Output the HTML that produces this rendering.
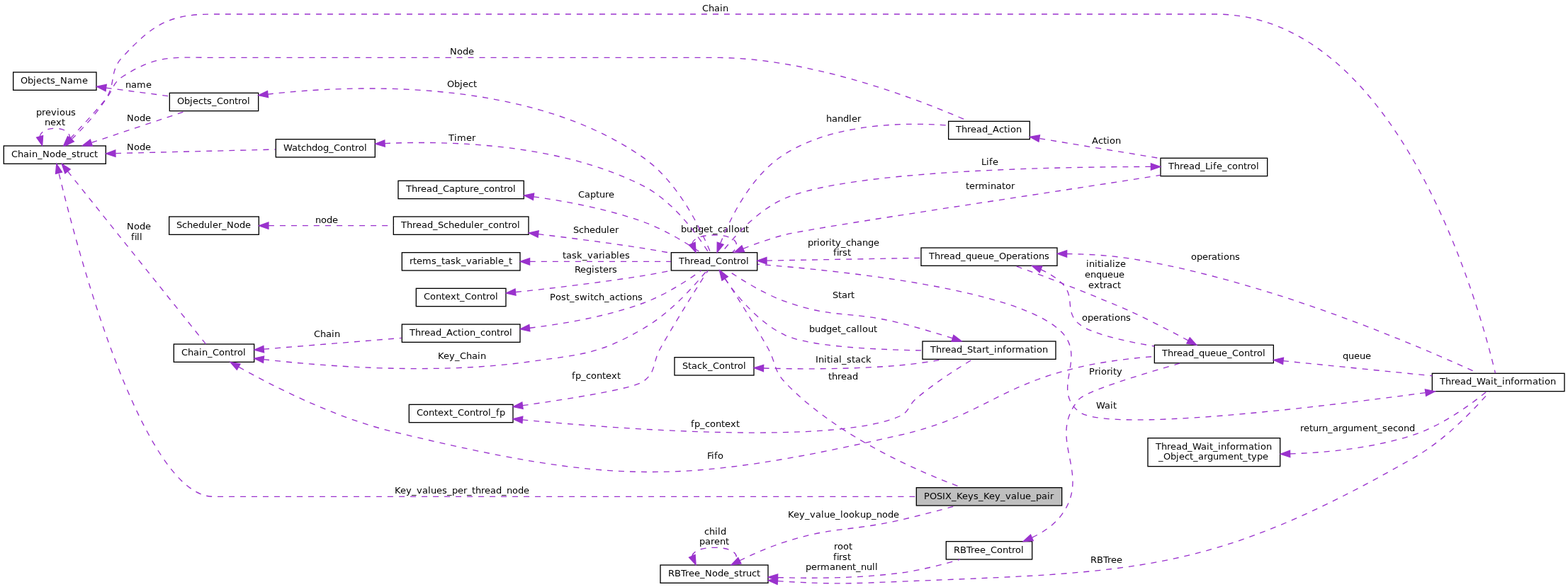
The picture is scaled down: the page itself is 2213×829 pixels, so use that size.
<!DOCTYPE html>
<html lang="en">
<head>
<meta charset="utf-8">
<title>POSIX_Keys_Key_value_pair collaboration diagram</title>
<style>
html,body{margin:0;padding:0;background:#fff;}
body{width:2213px;height:829px;overflow:hidden;position:relative;}
svg{display:block;position:absolute;left:0;top:0;will-change:transform;}
text{font-family:"DejaVu Sans","Liberation Sans",sans-serif;font-size:13px;text-anchor:start;fill:#000;}
.edge path{fill:none;stroke:#9a32cd;stroke-width:1.3333px;stroke-dasharray:8,8;}
.edge polygon{fill:#9a32cd;stroke:#9a32cd;stroke-width:1.3333px;}
.n{fill:#fff;stroke:#000;stroke-width:1.3333px;}
.g{fill:#bfbfbf;}
</style>
</head>
<body>
<svg width="2213" height="829" viewBox="0 0 2213 829">
<g class="node">
<rect class="n g" x="1293.33" y="688.67" width="205.33" height="25.33"/>
<text x="1304 1312 1322 1330 1334 1343 1350 1358 1366 1374 1381 1388 1396 1404 1412 1419 1427 1435 1439 1447 1455 1462 1470 1478 1482" y="705">POSIX_Keys_Key_value_pair</text>
</g>
<g class="node">
<rect class="n" x="947.33" y="356.67" width="121.33" height="25.33"/>
<text x="958 966 974 979 987 995 1003 1010 1019 1027 1035 1040 1045 1053" y="373">Thread_Control</text>
</g>
<g class="edge">
<path d="M1023.39,393.37C1039.34,417.85 1064.26,457.07 1084,492 1095.55,512.87 1091.55,522.73 1108,540 1180.85,616.51 1298.12,666.69 1357.56,688.64"/>
<polygon points="1019.37,395.77 1016.13,382.01 1027.24,390.75 1019.37,395.77"/>
<text x="1169 1174 1182 1187 1195 1203" y="536">thread</text>
</g>
<g class="edge">
<path d="M976.75,343.96C978.45,337.16 988.87,332 1008,332 1037.85,332 1046.49,344.57 1033.89,356.32"/>
<polygon points="981.09,342.24 982.11,356.32 972.52,345.95 981.09,342.24"/>
<text x="961 969 977 985 993 1001 1006 1013 1020 1028 1032 1036 1044 1052" y="328">budget_callout</text>
</g>
<g class="node">
<rect class="n" x="1300" y="350" width="192" height="25.33"/>
<text x="1311 1319 1327 1332 1340 1348 1356 1363 1371 1379 1387 1395 1403 1410 1420 1428 1436 1441 1449 1454 1458 1466 1474" y="366">Thread_queue_Operations</text>
</g>
<g class="edge">
<path d="M1082.21,368.07C1143.91,367 1232.77,365.47 1299.97,364.31"/>
<polygon points="1082.11,372.75 1068.69,368.31 1081.95,363.41 1082.11,372.75"/>
<text x="1140 1148 1153 1157 1165 1170 1174 1179 1187 1194 1201 1209 1217 1225 1233" y="347">priority_change</text>
<text x="1176 1181 1184 1189 1196" y="361">first</text>
</g>
<g class="node">
<rect class="n" x="1638" y="223.33" width="150.67" height="25.33"/>
<text x="1649 1657 1665 1670 1678 1686 1694 1701 1708 1712 1717 1725 1732 1739 1747 1755 1760 1765 1773" y="239">Thread_Life_control</text>
</g>
<g class="edge">
<path d="M1049.16,351.11C1066.96,344.04 1088.23,336.56 1108,331.47 1158.33,319.64 1487.25,271.36 1637.44,247.46"/>
<polygon points="1050.57,355.57 1036.48,356.49 1046.92,346.99 1050.57,355.57"/>
<text x="1363 1368 1376 1381 1394 1398 1406 1414 1419 1427" y="267">terminator</text>
</g>
<g class="node">
<rect class="n" x="1338.67" y="171.33" width="114.67" height="25.33"/>
<text x="1349 1357 1365 1370 1378 1386 1394 1401 1410 1417 1422 1426 1434" y="187">Thread_Action</text>
</g>
<g class="edge">
<path d="M1016.78,343.55C1030.54,308.49 1060.14,246.79 1108,217.33 1178.24,173.75 1277.03,172.49 1338.37,177.12"/>
<polygon points="1021.07,345.43 1012.14,356.37 1012.29,342.24 1021.07,345.43"/>
<text x="1166 1174 1182 1190 1198 1202 1210" y="172">handler</text>
</g>
<g class="node">
<rect class="n" x="1302" y="482" width="188" height="25.33"/>
<text x="1313 1321 1329 1334 1342 1350 1358 1365 1373 1378 1386 1391 1396 1403 1407 1415 1420 1428 1433 1446 1454 1459 1463 1471" y="498">Thread_Start_information</text>
</g>
<g class="edge">
<path d="M1022.91,393.47C1040.25,418.36 1070.83,455.91 1108,473.33 1141.25,489.11 1231.35,493.79 1301.76,494.92"/>
<polygon points="1018.87,395.81 1015.48,382.11 1026.68,390.72 1018.87,395.81"/>
<text x="1142 1150 1158 1166 1174 1182 1187 1194 1201 1209 1213 1217 1225 1233" y="469">budget_callout</text>
</g>
<g class="node">
<rect class="n" x="555.33" y="306" width="190.67" height="25.33"/>
<text x="566 574 582 587 595 603 611 618 626 633 641 649 657 665 669 677 682 689 696 704 712 717 722 730" y="322">Thread_Scheduler_control</text>
</g>
<g class="edge">
<path d="M759.73,330.61C805.53,336.09 859.47,343.05 908,350.67 920.75,352.67 934.36,355.07 947.29,357.48"/>
<polygon points="759.12,335.24 746.43,329.04 760.21,325.97 759.12,335.24"/>
<text x="809 817 824 832 840 848 856 860 868" y="329">Scheduler</text>
</g>
<g class="node">
<rect class="n" x="238.67" y="306" width="126.67" height="25.33"/>
<text x="249 257 264 272 280 288 296 300 308 313 320 330 338 346" y="322">Scheduler_Node</text>
</g>
<g class="edge">
<path d="M379.05,318.67C430.87,318.67 499.95,318.67 555.29,318.67"/>
<polygon points="378.92,323.33 365.59,318.67 378.92,314 378.92,323.33"/>
<text x="445 453 461 469" y="315">node</text>
</g>
<g class="node">
<rect class="n" x="2021.33" y="527.33" width="186.67" height="25.33"/>
<text x="2032 2040 2048 2053 2061 2069 2077 2084 2096 2104 2108 2113 2120 2124 2132 2137 2145 2150 2163 2171 2176 2180 2188" y="543">Thread_Wait_information</text>
</g>
<g class="edge">
<path d="M2011.67,554.55C1852.73,576.2 1559.71,611.28 1522.67,581.33 1483.08,549.33 1533.95,506.03 1498.67,469.33 1440,408.31 1186.17,382.2 1069.01,373.24"/>
<polygon points="2011.36,549.88 2025.2,552.69 2012.63,559.13 2011.36,549.88"/>
<text x="1547 1559 1567 1571" y="577">Wait</text>
</g>
<g class="node">
<rect class="n" x="932" y="798" width="152" height="25.33"/>
<text x="943 952 961 967 972 980 988 995 1005 1013 1021 1029 1036 1043 1048 1053 1061 1068" y="814">RBTree_Node_struct</text>
</g>
<g class="edge">
<path d="M1043.92,791.76C1062.63,782.65 1086.11,772.23 1108,765.33 1177.52,743.12 1198.17,750.87 1269.33,734.67 1296.12,728.57 1325.84,720.71 1349.61,714.16"/>
<polygon points="1046.01,795.93 1032.01,797.8 1041.79,787.61 1046.01,795.93"/>
<text x="1112 1120 1128 1136 1143 1151 1159 1163 1171 1179 1186 1190 1198 1206 1214 1222 1230 1237 1245 1253 1261" y="731">Key_value_lookup_node</text>
</g>
<g class="edge">
<path d="M1097.68,820.69C1101.16,820.93 1104.61,821.15 1108,821.33 1179.6,825.19 1197.69,824.24 1269.33,821.33 1601.93,807.81 1708.69,811.15 1997.33,645.33 2041.68,619.85 2083.45,574.99 2102.52,552.96"/>
<polygon points="1097.07,825.32 1084.15,819.61 1097.81,816.01 1097.07,825.32"/>
<text x="1539 1548 1557 1563 1568 1576" y="795">RBTree</text>
</g>
<g class="edge">
<path d="M976.75,785.29C978.45,778.49 988.87,773.33 1008,773.33 1037.85,773.33 1046.49,785.91 1033.89,797.65"/>
<polygon points="981.09,783.57 982.11,797.65 972.52,787.28 981.09,783.57"/>
<text x="994 1001 1009 1013 1017" y="755">child</text>
<text x="987 995 1003 1008 1016 1024" y="769">parent</text>
</g>
<g class="node">
<rect class="n" x="1335.33" y="764.67" width="121.33" height="25.33"/>
<text x="1346 1355 1364 1370 1375 1383 1391 1398 1407 1415 1423 1428 1433 1441" y="781">RBTree_Control</text>
</g>
<g class="edge">
<path d="M1098.03,815.56C1148.45,817.01 1212.65,816.6 1269.33,809.33 1298.52,805.59 1330.65,797.29 1355.08,790.09"/>
<polygon points="1097.36,820.21 1084.19,815.11 1097.67,810.88 1097.36,820.21"/>
<text x="1177 1182 1190 1198" y="776">root</text>
<text x="1176 1181 1184 1189 1196" y="791">first</text>
<text x="1137 1145 1153 1158 1171 1179 1187 1195 1203 1208 1215 1223 1231 1235" y="805">permanent_null</text>
</g>
<g class="edge">
<path d="M1505.65,358.47C1535.11,358.85 1566.91,360.69 1596,365.33 1790.72,396.37 2010.53,492.28 2086.13,527.16"/>
<polygon points="1505.6,363.13 1492.29,358.37 1505.67,353.8 1505.6,363.13"/>
<text x="1681 1689 1697 1705 1710 1718 1723 1727 1735 1743" y="367">operations</text>
</g>
<g class="node">
<rect class="n" x="1629.33" y="487.33" width="168" height="25.33"/>
<text x="1640 1648 1656 1661 1669 1677 1685 1692 1700 1708 1716 1724 1732 1739 1748 1756 1764 1769 1774 1782" y="503">Thread_queue_Control</text>
</g>
<g class="edge">
<path d="M1469,380.52C1479.84,385.53 1490.2,391.89 1498.67,400 1518.61,419.11 1501.51,439.57 1522.67,457.33 1539.12,471.13 1586.15,481.77 1629.21,488.97"/>
<polygon points="1467.19,384.83 1456.64,375.44 1470.75,376.2 1467.19,384.83"/>
<text x="1527 1535 1543 1551 1556 1564 1569 1573 1581 1589" y="453">operations</text>
</g>
<g class="edge">
<path d="M1811.08,509.68C1874.97,516.08 1958.32,524.45 2021.31,530.76"/>
<polygon points="1810.56,514.31 1797.76,508.33 1811.49,505.03 1810.56,514.31"/>
<text x="1895 1903 1911 1919 1927" y="507">queue</text>
</g>
<g class="edge">
<path d="M1676.93,480.85C1654.13,468.64 1623.6,452.79 1596,440 1574.77,430.17 1520.45,408.49 1498.67,400 1477,391.56 1452.55,382.53 1433.09,375.48"/>
<polygon points="1679.23,476.77 1688.75,487.21 1674.8,485 1679.23,476.77"/>
<text x="1533 1537 1545 1549 1554 1558 1566 1570 1574 1581" y="377">initialize</text>
<text x="1531 1539 1547 1555 1563 1571 1579" y="392">enqueue</text>
<text x="1536 1544 1552 1557 1562 1570 1577" y="407">extract</text>
</g>
<g class="edge">
<path d="M1456.83,759.12C1472.69,751.51 1488.29,741 1498.67,726.67 1541.53,667.48 1475.83,620.09 1522.67,564 1532.17,552.61 1613.45,527.88 1666.39,512.72"/>
<polygon points="1458.23,763.6 1444.13,764.63 1454.52,755.04 1458.23,763.6"/>
<text x="1537 1545 1550 1554 1562 1567 1571 1576" y="529">Priority</text>
</g>
<g class="node">
<rect class="n" x="245.33" y="486" width="113.33" height="25.33"/>
<text x="256 265 273 281 285 293 300 309 317 325 330 335 343" y="502">Chain_Control</text>
</g>
<g class="edge">
<path d="M372.27,507.67C460.04,517.51 616.11,529.51 748,510.67 821.33,500.19 843.88,501.08 908,464 946.02,442.13 980.73,402.8 997.31,382.4"/>
<polygon points="371.49,512.28 358.79,506.12 372.57,503.01 371.49,512.28"/>
<text x="618 626 634 642 649 658 666 674 678" y="507">Key_Chain</text>
</g>
<g class="edge">
<path d="M337.2,518.41C384,544.59 471.93,589.72 553.33,609.33 862.71,683.89 959.07,685.41 1269.33,614.67 1386.72,587.91 1405.44,546.15 1522.67,518.67 1557.08,510.6 1595.8,506.01 1629.21,503.41"/>
<polygon points="334.43,522.21 325.12,511.57 339.03,514.09 334.43,522.21"/>
<text x="998 1004 1008 1013" y="648">Fifo</text>
</g>
<g class="node">
<rect class="n" x="567.33" y="458" width="166.67" height="25.33"/>
<text x="578 586 594 599 607 615 623 630 639 646 651 655 663 671 678 685 693 701 706 711 719" y="474">Thread_Action_control</text>
</g>
<g class="edge">
<path d="M372.28,493.09C428.27,488.56 507.4,482.15 566.77,477.35"/>
<polygon points="372.59,497.75 358.92,494.17 371.84,488.44 372.59,497.75"/>
<text x="443 452 460 468 472" y="476">Chain</text>
</g>
<g class="node">
<rect class="n" x="5.33" y="206" width="144" height="25.33"/>
<text x="16 25 33 41 45 53 60 70 78 86 94 101 108 113 118 126 133" y="222">Chain_Node_struct</text>
</g>
<g class="edge">
<path d="M83.03,244.33C135.8,462.8 219.8,701.3 300.7,701.3 300.67,701.33 300.67,701.33 1009.33,701.33 1105.67,701.33 1215.55,701.33 1293.25,701.33" style="stroke-dashoffset:-1.25"/>
<polygon points="78.51,245.47 79.8,231.4 87.56,243.2 78.51,245.47"/>
<text x="557 565 573 581 588 596 604 608 616 624 631 638 646 654 659 666 671 679 684 692 700 708 715 723 731 739" y="697">Key_values_per_thread_node</text>
</g>
<g class="edge">
<path d="M101.17,196.63C116.51,181.73 135.91,161.03 149.33,140 164.49,115.61 153.64,100.91 173.33,80 216.23,34.45 238.11,20 300.67,20 300.67,20 300.67,20 1714.67,20 1978.59,20 2091.57,447.07 2110.44,527.15"/>
<polygon points="104.39,200.01 91.56,205.93 97.89,193.31 104.39,200.01"/>
<text x="991 1000 1008 1016 1020" y="16">Chain</text>
</g>
<g class="edge">
<path d="M95.69,242.16C141.2,298.95 255.4,442.17 290.49,485.83"/>
<polygon points="91.81,244.77 87.19,231.43 99.12,238.97 91.81,244.77"/>
<text x="179 189 197 205" y="324">Node</text>
<text x="185 190 193 197" y="339">fill</text>
</g>
<g class="edge">
<path d="M56.09,192.8C57.52,186.25 64.6,181.33 77.33,181.33 97.72,181.33 103.6,193.91 95.01,205.65"/>
<polygon points="60.6,191.56 59.65,205.65 51.6,194.05 60.6,191.56"/>
<text x="51 59 64 72 80 84 92 100" y="163">previous</text>
<text x="63 71 79 87" y="177">next</text>
</g>
<g class="node">
<rect class="n" x="389.33" y="196.67" width="140" height="25.33"/>
<text x="400 412 420 425 432 440 448 456 464 471 480 488 496 501 506 514" y="213">Watchdog_Control</text>
</g>
<g class="edge">
<path d="M163.21,216.59C231.09,214.92 325.24,212.6 388.72,211.04"/>
<polygon points="163.01,221.25 149.57,216.92 162.79,211.93 163.01,221.25"/>
<text x="179 189 197 205" y="212">Node</text>
</g>
<g class="edge">
<path d="M99.31,195.45C113.92,180.04 133.21,159.17 149.33,140 160.61,126.27 158.33,117.55 173.33,108 222.11,76.95 242.84,81.33 300.67,81.33 300.67,81.33 300.67,81.33 1009.33,81.33 1147.45,81.33 1304.32,143.68 1366.83,171.2"/>
<polygon points="102.33,199.04 89.84,205.61 95.51,192.68 102.33,199.04"/>
<text x="635 645 653 661" y="77">Node</text>
</g>
<g class="node">
<rect class="n" x="239.33" y="131.33" width="125.33" height="25.33"/>
<text x="250 260 268 272 280 287 292 299 306 315 323 331 336 341 349" y="147">Objects_Control</text>
</g>
<g class="edge">
<path d="M129.37,201.41C170.18,187.75 226.23,168.97 263,156.67"/>
<polygon points="130.36,206 116.23,205.83 127.37,197.16 130.36,206"/>
<text x="179 189 197 205" y="171">Node</text>
</g>
<g class="node">
<rect class="n" x="1620" y="618.67" width="186.67" height="40"/>
<text x="1631 1639 1647 1652 1660 1668 1676 1683 1695 1703 1707 1712 1719 1723 1731 1736 1744 1749 1762 1770 1775 1779 1787" y="635">Thread_Wait_information</text>
<text x="1635 1642 1652 1660 1664 1672 1679 1684 1691 1699 1704 1712 1720 1733 1741 1749 1754 1761 1766 1774 1782" y="649">_Object_argument_type</text>
</g>
<g class="edge">
<path d="M1820.79,640.91C1874.88,639.13 1940.97,632.43 1997.33,613.33 2037.28,599.8 2077.44,569.93 2098.43,552.77"/>
<polygon points="1820.76,645.57 1807.31,641.25 1820.52,636.24 1820.76,645.57"/>
<text x="1835 1840 1848 1853 1861 1866 1874 1881 1889 1894 1902 1910 1923 1931 1939 1944 1951 1958 1966 1973 1981 1989" y="609">return_argument_second</text>
</g>
<g class="edge">
<path d="M543.08,202.56C636.79,198.49 791.79,203 908,262.67 951.14,284.68 985.32,333.21 1000.01,356.45"/>
<polygon points="543.27,207.23 529.72,203.21 542.8,197.91 543.27,207.23"/>
<text x="633 641 645 658 666" y="199">Timer</text>
</g>
<g class="node">
<rect class="n" x="577.33" y="571.33" width="146.67" height="25.33"/>
<text x="588 597 605 613 618 626 634 639 646 655 663 671 676 681 689 693 700 705" y="587">Context_Control_fp</text>
</g>
<g class="edge">
<path d="M737.76,572.65C806.68,562.89 894.21,548.84 908,538.67 926.77,524.83 920.6,512.35 932,492 955.13,451.12 984.93,404.12 999.21,382.04"/>
<polygon points="738.11,577.32 724.25,574.55 736.81,568.07 738.11,577.32"/>
<text x="807 812 820 827 834 842 850 855 863 871" y="535">fp_context</text>
</g>
<g class="edge">
<path d="M737.37,592.88C883.85,606.75 1176.24,628.04 1269.33,588 1283.59,581.87 1281.49,572.68 1293.33,562.67 1318.89,541.05 1351.51,520.21 1372.72,507.43"/>
<polygon points="736.92,597.52 724.09,591.6 737.81,588.24 736.92,597.52"/>
<text x="975 980 988 995 1002 1010 1018 1023 1031 1039" y="603">fp_context</text>
</g>
<g class="edge">
<path d="M1624.2,235.44C1479.64,235.67 1198.48,241.29 1108,280 1068.91,296.72 1035.04,335.56 1019.08,356.08"/>
<polygon points="1624.43,230.77 1637.76,235.43 1624.43,240.11 1624.43,230.77"/>
<text x="1385 1392 1396 1401" y="233">Life</text>
</g>
<g class="edge">
<path d="M1467.37,195.57C1518.03,203.95 1586.32,215.23 1637.88,223.75"/>
<polygon points="1465.99,200.08 1453.59,193.29 1467.51,190.87 1465.99,200.08"/>
<text x="1541 1550 1557 1562 1566 1574" y="203">Action</text>
</g>
<g class="edge">
<path d="M747.64,463.23C796.69,457.31 856.75,446.75 908,428 938.88,416.71 970.95,395.6 989.84,382.01"/>
<polygon points="747.88,467.91 734.11,464.79 746.83,458.63 747.88,467.91"/>
<text x="776 784 792 799 804 811 818 829 833 838 845 853 860 868 875 880 884 892 900" y="424">Post_switch_actions</text>
</g>
<g class="node">
<rect class="n" x="562" y="255.33" width="177.33" height="25.33"/>
<text x="573 581 589 594 602 610 618 625 634 642 650 655 663 668 676 683 690 698 706 711 716 724" y="271">Thread_Capture_control</text>
</g>
<g class="edge">
<path d="M753.08,277.83C801.03,284.52 858.51,295.51 908,313.33 938.01,324.15 969.56,343.69 988.67,356.6"/>
<polygon points="752.43,282.45 739.83,276.05 753.65,273.2 752.43,282.45"/>
<text x="816 825 833 841 846 854 859" y="279">Capture</text>
</g>
<g class="edge">
<path d="M378.03,133.07C500.59,119.29 746.79,109.56 908,222.67 958.51,257.92 990.83,327.61 1002.69,356.41"/>
<polygon points="378.57,137.71 364.79,134.63 377.48,128.44 378.57,137.71"/>
<text x="631 641 649 653 661 668" y="123">Object</text>
</g>
<g class="node">
<rect class="n" x="18.67" y="102" width="117.33" height="25.33"/>
<text x="29 39 47 51 59 66 71 78 85 95 103 116" y="118">Objects_Name</text>
</g>
<g class="edge">
<path d="M149.76,124.07C178.6,127.87 211.57,132.23 239.32,135.89"/>
<polygon points="149.03,128.67 136.41,122.29 150.24,119.41 149.03,128.67"/>
<text x="177 185 193 206" y="124">name</text>
</g>
<g class="node">
<rect class="n" x="567.33" y="356.67" width="166.67" height="25.33"/>
<text x="578 583 588 596 609 616 623 628 636 643 651 658 666 674 679 683 691 699 703 711 718" y="373">rtems_task_variable_t</text>
</g>
<g class="edge">
<path d="M747.92,369.33C811.4,369.33 892.64,369.33 947,369.33"/>
<polygon points="747.59,374 734.25,369.33 747.59,364.67 747.59,374"/>
<text x="794 799 807 814 822 829 837 845 850 854 862 870 874 882" y="365">task_variables</text>
</g>
<g class="edge">
<path d="M1344.32,477.73C1321.57,470.44 1294.27,462.2 1269.33,456 1198.49,438.4 1176.51,450.51 1108,425.63 1078.69,415.1 1047.93,396.07 1029.22,383.23"/>
<polygon points="1345.89,473.33 1357.13,481.88 1343.01,482.21 1345.89,473.33"/>
<text x="1175 1183 1188 1196 1201" y="421">Start</text>
</g>
<g class="node">
<rect class="n" x="952" y="504.67" width="112" height="25.33"/>
<text x="963 971 976 984 991 999 1006 1015 1023 1031 1036 1041 1049" y="521">Stack_Control</text>
</g>
<g class="edge">
<path d="M1077.77,520.03C1130.28,521.36 1204.52,521.64 1269.33,516 1289.79,514.21 1311.92,510.92 1331.81,507.44"/>
<polygon points="1077.43,524.68 1064.24,519.65 1077.69,515.36 1077.43,524.68"/>
<text x="1151 1155 1163 1167 1172 1176 1184 1188 1195 1202 1207 1215 1222" y="512">Initial_stack</text>
</g>
<g class="node">
<rect class="n" x="587.33" y="407.33" width="126.67" height="25.33"/>
<text x="598 607 615 623 628 636 644 649 656 665 673 681 686 691 699" y="423">Context_Control</text>
</g>
<g class="edge">
<path d="M728.17,412.51C779.21,407.08 847.81,399.03 908,389.33 920.95,387.25 934.77,384.67 947.85,382.07"/>
<polygon points="728.01,417.21 714.27,413.96 727.04,407.93 728.01,417.21"/>
<text x="811 819 827 835 839 846 851 859 864" y="385">Registers</text>
</g>
</svg>
</body>
</html>
